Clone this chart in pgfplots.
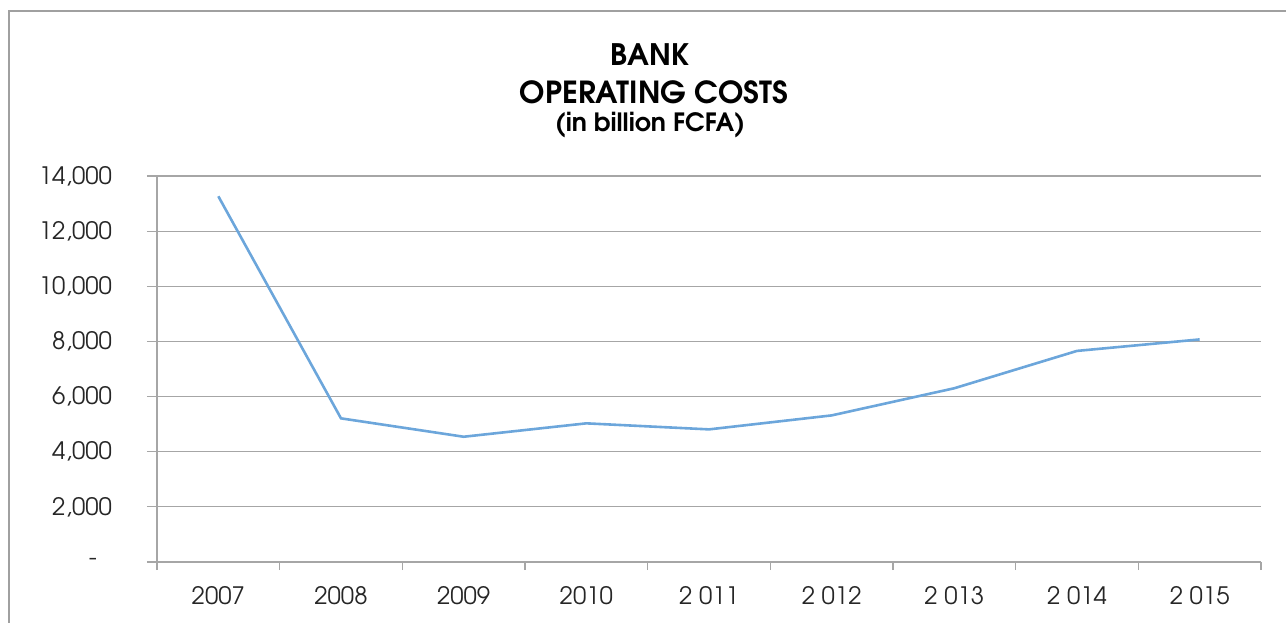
\documentclass[border=0pt]{standalone}
\usepackage{fontspec}
\setmainfont{TeX Gyre Adventor}
\usepackage{pgfplots}
\pgfplotsset{compat=1.18}
\definecolor{gridc}{HTML}{A6A6A6}
\definecolor{framec}{HTML}{A0A0A0}
\definecolor{linec}{HTML}{6CA6DB}
\definecolor{txt}{HTML}{262626}
\begin{document}
\begin{tikzpicture}
\useasboundingbox (0,0) rectangle (643pt,311pt);
\draw[framec, line width=0.6pt] (4.5pt,-2pt) -- (4.5pt,305.5pt) -- (645pt,305.5pt);
\node[font=\bfseries\fontsize{14.8}{16}\selectfont, text=black] at (325pt,283.5pt) {BANK};
\node[font=\bfseries\fontsize{15.2}{16}\selectfont, text=black] at (327pt,265pt) {OPERATING COSTS};
\node[font=\bfseries\fontsize{12.6}{14}\selectfont, text=black] at (325pt,248.5pt) {(in billion FCFA)};
\begin{axis}[
  at={(78.5pt,30pt)}, anchor=south west,
  scale only axis, width=552pt, height=193pt,
  xmin=-0.5, xmax=8.5, ymin=0, ymax=14000,
  scaled y ticks=false,
  axis lines*=left,
  axis line style={gridc, line width=0.6pt},
  ymajorgrids, grid style={gridc, line width=0.6pt},
  tick align=outside,
  major tick length=5pt, minor tick length=4pt,
  ytick={0,2000,4000,6000,8000,10000,12000,14000},
  yticklabels={{-\rule{7.5pt}{0pt}},{2,000},{4,000},{6,000},{8,000},{10,000},{12,000},{14,000}},
  ytick style={gridc, line width=0.6pt},
  xtick={0,1,2,3,4,5,6,7,8},
  xticklabels={2007,2008,2009,2010,2 011,2 012,2 013,2 014,2 015},
  minor xtick={-0.5,0.5,1.5,2.5,3.5,4.5,5.5,6.5,7.5,8.5},
  major x tick style={draw=none},
  minor x tick style={gridc, line width=0.6pt},
  tick label style={font=\fontsize{12}{14}\selectfont, text=txt},
  yticklabel style={anchor=east, xshift=-14pt},
  xticklabel style={anchor=base, yshift=-16pt},
  clip=false,
]
\addplot[linec, line width=1.3pt, mark=none] coordinates {
  (0,13265) (1,5210) (2,4543) (3,5029) (4,4810) (5,5317) (6,6302) (7,7656) (8,8073)
};
\end{axis}
\end{tikzpicture}
\end{document}
